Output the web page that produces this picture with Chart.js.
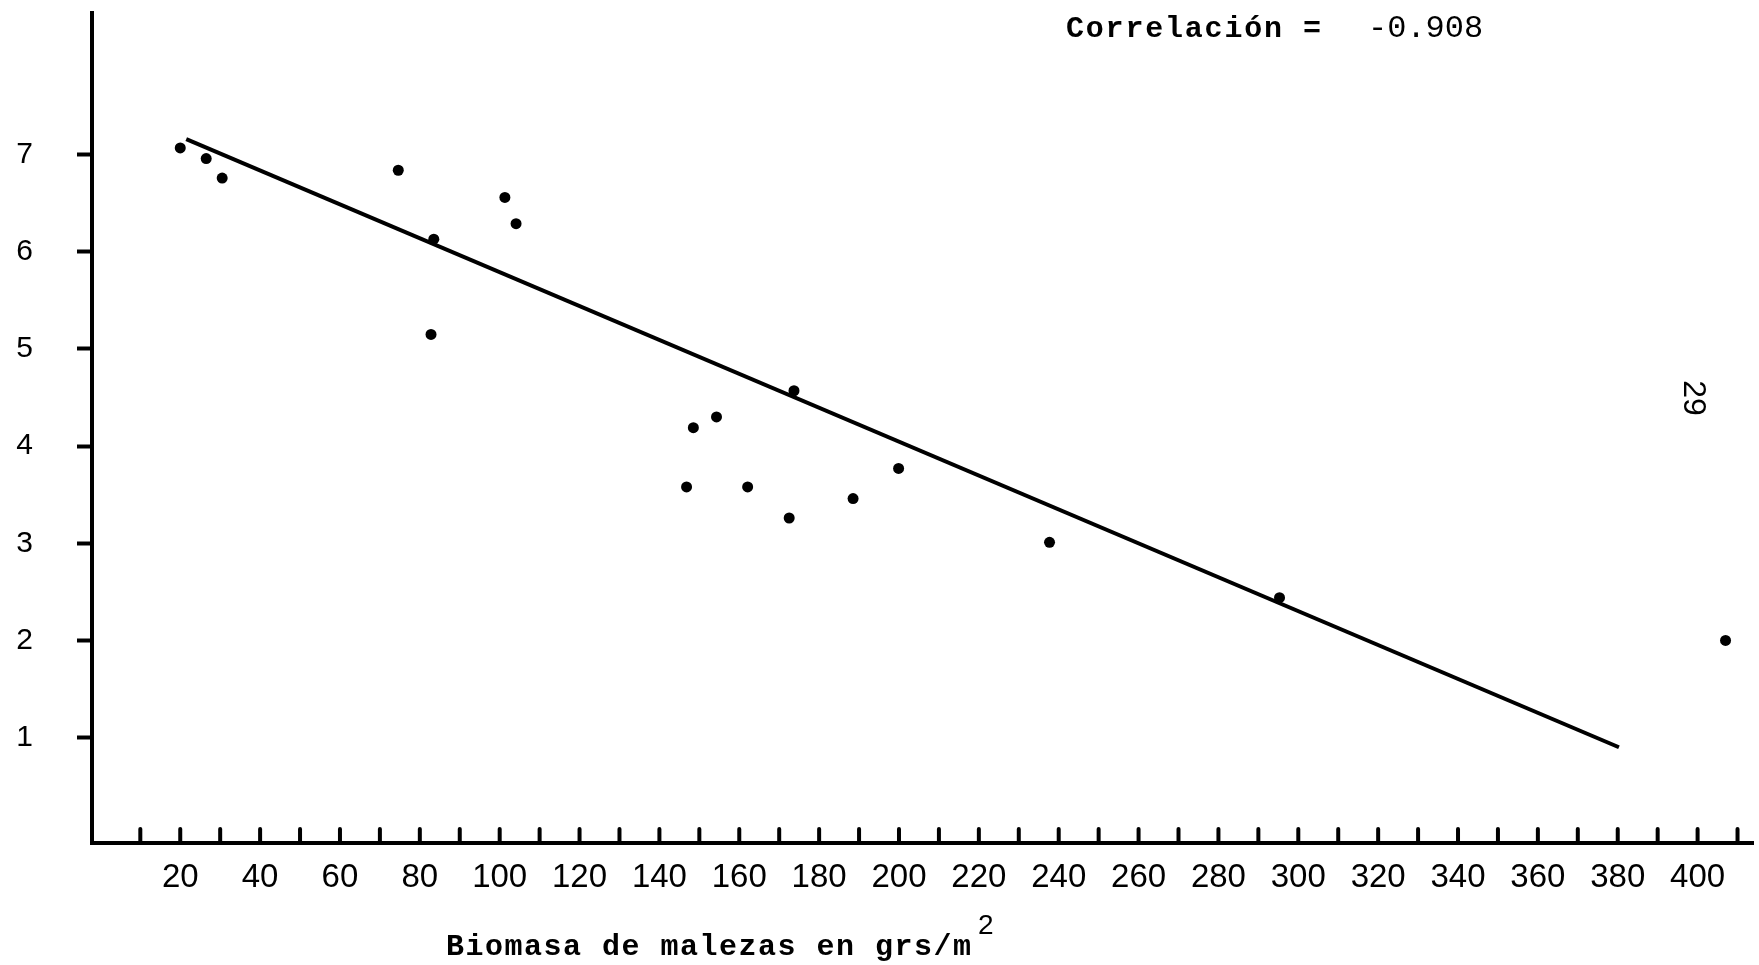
<!DOCTYPE html>
<html>
<head>
<meta charset="utf-8">
<title>Biomasa de malezas</title>
<script src="https://cdn.jsdelivr.net/npm/chart.js@4.4.1/dist/chart.umd.min.js"></script>
<style>
  html, body { margin: 0; padding: 0; background: #fff; overflow: hidden; }
  #wrap { width: 1759px; height: 965px; position: relative; }
</style>
</head>
<body>
<div id="wrap"><canvas id="chart"></canvas></div>
<script>
// weed biomass (grs/m2) and yield
const biomass = [20.0, 26.5, 30.5, 74.6, 83.5, 82.8, 101.3, 104.1, 146.8, 148.5, 154.3, 162.1, 172.5, 173.7, 188.5, 199.9, 237.7, 295.3, 407.0];
const yieldValues = [7.07, 6.96, 6.76, 6.84, 6.13, 5.15, 6.56, 6.29, 3.58, 4.19, 4.30, 3.58, 3.26, 4.57, 3.46, 3.77, 3.01, 2.44, 2.00];

// regression line end points
const fitX = [21.5, 380.3];
const fitY = [7.16, 0.90];

const xTickValues = [10, 20, 30, 40, 50, 60, 70, 80, 90, 100, 110, 120, 130, 140, 150, 160, 170, 180, 190, 200,
  210, 220, 230, 240, 250, 260, 270, 280, 290, 300, 310, 320, 330, 340, 350, 360, 370, 380, 390, 400, 410];
const xLabelValues = [20, 40, 60, 80, 100, 120, 140, 160, 180, 200, 220, 240, 260, 280, 300, 320, 340, 360, 380, 400];
const yTickValues = [1, 2, 3, 4, 5, 6, 7];

const correlationLabel = 'Correlación';
const correlationValue = '-0.908';
const xTitle = 'Biomasa de malezas en grs/m';
const pageNumber = '29';

const points = biomass.map((x, i) => ({ x, y: yieldValues[i] }));
const fitLine = fitX.map((x, i) => ({ x, y: fitY[i] }));

const paperMarks = {
  id: 'paperMarks',
  afterDraw(chart) {
    const { ctx, chartArea } = chart;
    const xScale = chart.scales.x;
    ctx.save();

    // x tick marks stand up from the axis
    ctx.strokeStyle = '#000';
    ctx.lineWidth = 4;
    ctx.lineCap = 'round';
    xTickValues.forEach((v) => {
      const px = xScale.getPixelForValue(v);
      ctx.beginPath();
      ctx.moveTo(px, chartArea.bottom - 2);
      ctx.lineTo(px, chartArea.bottom - 14);
      ctx.stroke();
    });

    ctx.fillStyle = '#000';
    ctx.textBaseline = 'alphabetic';
    ctx.textAlign = 'left';

    ctx.font = 'bold 30px "Liberation Mono"';
    ctx.letterSpacing = '1.8px';
    ctx.fillText(correlationLabel, 1066, 37);
    ctx.fillText('=', 1303, 37);
    ctx.font = '32px "Liberation Mono"';
    ctx.letterSpacing = '0px';
    ctx.fillText(correlationValue, 1368, 37);

    ctx.font = 'bold 30px "Liberation Mono"';
    ctx.letterSpacing = '1.5px';
    ctx.fillText(xTitle, 446, 955);
    ctx.letterSpacing = '0px';
    ctx.font = '28px "Liberation Sans"';
    ctx.fillText('2', 978, 934);

    ctx.translate(1693, 398);
    ctx.rotate(Math.PI / 2);
    ctx.textAlign = 'center';
    ctx.textBaseline = 'middle';
    ctx.font = '32px "Liberation Sans"';
    ctx.fillText(pageNumber, 0, 0);

    ctx.restore();
  },
};

new Chart(document.getElementById('chart'), {
  type: 'scatter',
  data: {
    datasets: [
      {
        label: 'Regresión',
        data: fitLine,
        showLine: true,
        borderColor: '#000',
        borderWidth: 4,
        pointRadius: 0,
        fill: false,
      },
      {
        label: 'Observaciones',
        data: points,
        backgroundColor: '#000',
        borderWidth: 0,
        pointRadius: 5.5,
      },
    ],
  },
  options: {
    responsive: true,
    maintainAspectRatio: false,
    animation: false,
    layout: { padding: { top: 13, right: 0, bottom: 0, left: 0 } },
    plugins: {
      legend: { display: false },
      tooltip: { enabled: false },
    },
    scales: {
      x: {
        type: 'linear',
        position: 'bottom',
        min: -2.1,
        max: 414,
        afterBuildTicks: (s) => { s.ticks = xTickValues.map((value) => ({ value })); },
        afterFit: (s) => { s.height = 122; s.paddingLeft = 0; s.paddingRight = 0; },
        grid: { display: false, drawTicks: false },
        border: { display: true, color: '#000', width: 4 },
        ticks: {
          autoSkip: false,
          maxRotation: 0,
          padding: 15,
          color: '#000',
          font: { family: 'Liberation Sans', size: 33 },
          callback: (v) => (xLabelValues.includes(v) ? String(v) : ''),
        },
      },
      y: {
        type: 'linear',
        min: -0.086,
        max: 8.459,
        afterBuildTicks: (s) => { s.ticks = yTickValues.map((value) => ({ value })); },
        afterFit: (s) => { s.width = 92; s.paddingTop = 0; s.paddingBottom = 0; },
        grid: { display: true, drawOnChartArea: false, drawTicks: true, tickLength: 15, tickColor: '#000', tickWidth: 4 },
        border: { display: true, color: '#000', width: 4 },
        ticks: {
          padding: 44,
          color: '#000',
          font: { family: 'Liberation Sans', size: 30 },
        },
      },
    },
  },
  plugins: [paperMarks],
});
</script>
</body>
</html>
